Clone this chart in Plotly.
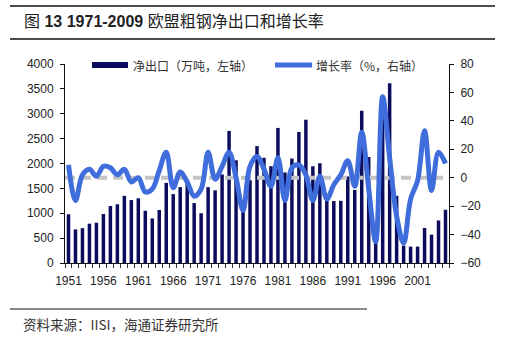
import plotly.graph_objects as go

# Years 1951-2005
years = list(range(1951, 2006))

# Net exports of crude steel, 10k tonnes (left axis)
net_exports = [
    980, 675, 700, 790, 810, 985, 1145, 1180, 1350, 1265,
    1300, 1050, 895, 1065, 1610, 1385, 1525, 1625, 1205, 1000,
    1525, 1460, 1780, 2655, 2065, 1040, 1665, 2350, 2115, 1945,
    2715, 1820, 2100, 2635, 2880, 1945, 2005, 1300, 1245, 1250,
    1740, 1470, 3060, 2130, 430, 3300, 3615, 1350, 350, 330,
    330, 705, 570, 855, 1070,
]

# Growth rate, % (right axis)
growth = [
    9, -16, 2, 6, 1, 8, 7, 2, 6, -3,
    0, -10, -8, 5, 18, -7, 4, -3, -13, -8,
    18, -1, 8, 18, 0, -23, 8, 15, 6, -6,
    14, -16, 7, 9, 2, -16, 1, -15, -5, 2,
    12, -6, 32, -8, -45, 57, 14, -27, -46, -15,
    -2, 33, -9, 18, 10,
]

label_years = list(range(1951, 2002, 5))
left_ticks = list(range(0, 4001, 500))
right_ticks = list(range(-60, 81, 20))

title_text = "图 <b>13 1971-2009</b> 欧盟粗钢净出口和增长率"
source_text = "资料来源：IISI，海通证券研究所"
bar_name = "净出口（万吨，左轴）"
line_name = "增长率（%，右轴）"

BAR_COLOR = "#0c0c5c"
LINE_COLOR = "#3f6ddc"
ZERO_COLOR = "#c4c4c4"
LATIN = "Liberation Sans, Arial, sans-serif"
CJK = "Noto Sans CJK SC, sans-serif"

fig = go.Figure()

fig.add_trace(go.Bar(
    x=years, y=net_exports, name=bar_name,
    marker=dict(color=BAR_COLOR, line=dict(width=0)),
    width=0.5, yaxis="y",
))

# zero reference on the right axis
fig.add_trace(go.Scatter(
    x=[years[0] - 0.5, years[-1] + 0.5], y=[0, 0],
    mode="lines", yaxis="y2", hoverinfo="skip",
    line=dict(color=ZERO_COLOR, width=4, dash="10px,6px"),
))

fig.add_trace(go.Scatter(
    x=years, y=growth, name=line_name, yaxis="y2",
    mode="lines",
    line=dict(color=LINE_COLOR, width=5, shape="spline", smoothing=1.0),
))

# plot area geometry in pixels (for decorations around it)
W, H = 515, 339
L, R, T, B = 65, 66, 64, 76
pw, ph = W - L - R, H - T - B


def px(x):
    return (x - L) / pw


def py(y):
    return (H - B - y) / ph


shapes = [
    dict(type="line", xref="paper", yref="paper", x0=px(10), x1=px(495),
         y0=py(6), y1=py(6), line=dict(color="#111", width=1.5)),
    dict(type="line", xref="paper", yref="paper", x0=px(10), x1=px(495),
         y0=py(39), y1=py(39), line=dict(color="#111", width=1.5)),
    dict(type="line", xref="paper", yref="paper", x0=px(10), x1=px(367),
         y0=py(309), y1=py(309), line=dict(color="#111", width=1.2)),
    # legend keys
    dict(type="rect", xref="paper", yref="paper", x0=px(92), x1=px(128),
         y0=py(62), y1=py(68), fillcolor=BAR_COLOR, line=dict(width=0)),
    dict(type="line", xref="paper", yref="paper", x0=px(275), x1=px(312),
         y0=py(65), y1=py(65), line=dict(color=LINE_COLOR, width=5)),
]

annotations = [
    dict(text=title_text, xref="paper", yref="paper", x=px(22), y=py(21),
         xanchor="left", yanchor="middle", showarrow=False,
         font=dict(family=LATIN + ", " + CJK, size=16, color="#222")),
    dict(text=source_text, xref="paper", yref="paper", x=px(21), y=py(324),
         xanchor="left", yanchor="middle", showarrow=False,
         font=dict(family=CJK, size=13.5, color="#333")),
    dict(text=bar_name, xref="paper", yref="paper", x=px(131), y=py(65),
         xanchor="left", yanchor="middle", showarrow=False,
         font=dict(family=CJK, size=12, color="#333")),
    dict(text=line_name, xref="paper", yref="paper", x=px(314), y=py(65),
         xanchor="left", yanchor="middle", showarrow=False,
         font=dict(family=CJK, size=12, color="#333")),
]

fig.update_layout(
    width=W, height=H,
    margin=dict(l=L, r=R, t=T, b=B, pad=0),
    paper_bgcolor="white", plot_bgcolor="white",
    showlegend=False,
    bargap=0.5,
    shapes=shapes,
    annotations=annotations,
    font=dict(family=LATIN, size=12, color="#222"),
    xaxis=dict(
        range=[years[0] - 0.5, years[-1] + 0.5],
        tickmode="array", tickvals=label_years,
        ticktext=[str(y) for y in label_years],
        ticks="", showgrid=False, zeroline=False,
        showline=True, linecolor="#111", linewidth=1,
        ticklabelstandoff=7,
        tickfont=dict(family=LATIN, size=12, color="#222"),
        minor=dict(tickmode="linear", tick0=years[0] - 0.5, dtick=1,
                   ticks="outside", ticklen=4, tickcolor="#333",
                   showgrid=False),
    ),
    yaxis=dict(
        range=[0, 4000], tickmode="array", tickvals=left_ticks,
        ticks="outside", ticklen=4, tickcolor="#111",
        showgrid=False, zeroline=False,
        showline=True, linecolor="#111", linewidth=1,
        ticklabelstandoff=4,
        tickfont=dict(family=LATIN, size=12, color="#222"),
    ),
    yaxis2=dict(
        range=[-60, 80], tickmode="array", tickvals=right_ticks,
        overlaying="y", side="right", anchor="x",
        ticks="outside", ticklen=4, tickcolor="#111",
        showgrid=False, zeroline=False,
        showline=True, linecolor="#111", linewidth=1,
        ticklabelstandoff=4,
        tickfont=dict(family=LATIN, size=12, color="#222"),
    ),
)

fig.write_html("out.html")
